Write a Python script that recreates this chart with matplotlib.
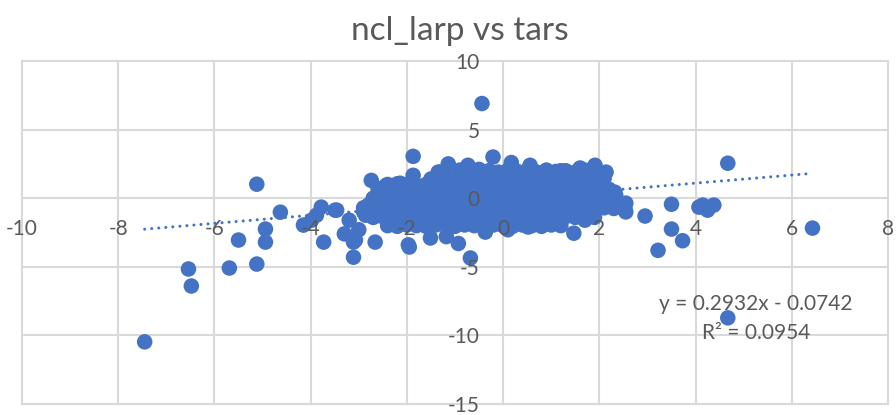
import matplotlib
matplotlib.use("Agg")
import matplotlib.pyplot as plt
import numpy as np

plt.rcParams['font.family'] = ['Lato', 'DejaVu Sans']

title = "ncl_larp vs tars"
slope = 0.2932
intercept = -0.0742
r2 = 0.0954
x_ticks = [-10, -8, -6, -4, -2, 0, 2, 4, 6, 8]
y_ticks = [-15, -10, -5, 0, 5, 10]

# outlying points (tars, ncl_larp)
out_x = [-7.45, -6.54, -6.48, -5.69, -5.12, -5.50, -4.94, -4.94, -5.12, -4.63,
         -4.15, -3.98, -3.88, -3.78, -3.46, -3.73, -3.11, -3.11, -3.07, -2.66,
         -1.95, -1.87, -1.87, -2.74, -1.35, -0.44, -0.21, -0.68, -0.93, 1.47,
         2.55, 2.95, 3.50, 3.50, 3.73, 3.22, 4.07, 4.15, 4.38, 4.25,
         4.67, 4.67, 6.43, 2.55, 2.34, -3.49, -3.20, -3.00, -2.90, -3.30,
         -1.97, -1.51, -1.18, 0.52, 0.10, -0.37, 1.08, 1.70, 2.18, 2.53,
         2.32, 2.14, 1.91, 1.60, 1.20, 0.87, 0.56, 0.17, -0.73, -1.14,
         -1.31, -1.62, -2.14, -2.43, -2.53, -2.80, -2.86]
out_y = [-10.47, -5.16, -6.40, -5.09, -4.80, -3.05, -2.25, -3.20, 1.02, -1.02,
         -1.96, -1.60, -1.24, -0.65, -0.87, -3.20, -4.30, -3.20, -3.05, -3.20,
         -3.56, 3.05, 1.67, 1.30, 1.90, 6.90, 3.00, -4.36, -3.30, -2.55,
         -1.00, -1.30, -0.44, -2.25, -3.10, -3.80, -0.65, -0.50, -0.50, -0.87,
         2.55, -8.72, -2.18, -0.36, 0.22, -0.87, -1.60, -2.30, -1.00, -2.60,
         -3.40, -2.90, -2.80, -2.10, -2.30, -2.47, -1.80, -1.60, -0.50, -0.73,
         0.44, 1.90, 2.40, 2.20, 2.00, 1.90, 2.40, 2.60, 2.40, 2.50,
         1.90, 0.94, 1.09, 0.94, 0.36, -0.50, -1.24]

# dense central cluster, row by row
core_x = [-0.9, -0.7, -0.5, -0.3, -0.1, 0.1, 0.3, 0.5, 0.7, 0.9, 1.1, 1.3, 1.5, 1.7, 1.9,
          -1.5, -1.3, -1.1, -0.9, -0.7, -0.5, -0.3, -0.1, 0.1, 0.3, 0.5, 0.7, 0.9, 1.1, 1.3, 1.5, 1.7, 1.9, 2.1,
          -2.4, -2.2, -2.0, -1.8, -1.6,
          -2.6, -2.4, -2.2, -2.0, -1.8, -1.6, -1.4, -1.2, -1.0, -0.8, -0.6, -0.4, -0.2, 0.0, 0.2, 0.4, 0.6, 0.8, 1.0, 1.2, 1.4, 1.6, 1.8, 2.0, 2.2,
          -2.7, -2.5, -2.3, -2.1, -1.9, -1.7, -1.5, -1.3, -1.1, -0.9, -0.7, -0.5, -0.3, -0.1, 0.1, 0.3, 0.5, 0.7, 0.9, 1.1, 1.3, 1.5, 1.7, 1.9, 2.1, 2.3,
          -2.9, -2.7, -2.5, -2.3, -2.1, -1.9, -1.7, -1.5, -1.3, -1.1, -0.9, -0.7, -0.5, -0.3, -0.1, 0.1, 0.3, 0.5, 0.7, 0.9, 1.1, 1.3, 1.5, 1.7, 1.9, 2.1, 2.3,
          -2.7, -2.5, -2.3, -2.1, -1.9, -1.7, -1.5, -1.3, -1.1, -0.9, -0.7, -0.5, -0.3, -0.1, 0.1, 0.3, 0.5, 0.7, 0.9, 1.1, 1.3, 1.5, 1.7, 1.9,
          -2.4, -2.2, -2.0, -1.8, -1.6, -1.4, -1.2, -1.0, -0.8, -0.6, -0.4, -0.2, 0.0, 0.2, 0.4, 0.6, 0.8, 1.0, 1.2]
core_y = [2.05, 1.95, 2.10, 2.00, 1.90, 2.05, 1.95, 2.00, 1.90, 2.05, 1.95, 2.00, 1.90, 2.05, 1.95,
          1.40, 1.35, 1.45, 1.40, 1.35, 1.40, 1.45, 1.40, 1.35, 1.40, 1.45, 1.40, 1.35, 1.40, 1.45, 1.40, 1.35, 1.40, 1.45,
          1.00, 1.05, 1.00, 0.95, 1.00,
          0.70, 0.65, 0.75, 0.70, 0.65, 0.70, 0.75, 0.70, 0.65, 0.70, 0.75, 0.70, 0.65, 0.70, 0.75, 0.70, 0.65, 0.70, 0.75, 0.70, 0.65, 0.70, 0.75, 0.70, 0.65,
          0.00, 0.05, -0.05, 0.00, 0.05, 0.00, -0.05, 0.00, 0.05, 0.00, -0.05, 0.00, 0.05, 0.00, -0.05, 0.00, 0.05, 0.00, -0.05, 0.00, 0.05, 0.00, -0.05, 0.00, 0.05, 0.00,
          -0.70, -0.65, -0.75, -0.70, -0.65, -0.70, -0.75, -0.70, -0.65, -0.70, -0.75, -0.70, -0.65, -0.70, -0.75, -0.70, -0.65, -0.70, -0.75, -0.70, -0.65, -0.70, -0.75, -0.70, -0.65, -0.70, -0.75,
          -1.40, -1.35, -1.45, -1.40, -1.35, -1.40, -1.45, -1.40, -1.35, -1.40, -1.45, -1.40, -1.35, -1.40, -1.45, -1.40, -1.35, -1.40, -1.45, -1.40, -1.35, -1.40, -1.45, -1.40,
          -2.00, -2.05, -1.95, -2.00, -2.05, -1.95, -2.00, -2.05, -1.95, -2.00, -2.05, -1.95, -2.00, -2.05, -1.95, -2.00, -2.05, -1.95, -2.00]

x = np.array(out_x + core_x)
y = np.array(out_y + core_y)

blue = '#4472C4'
grid_c = '#D9D9D9'
txt_c = '#595959'

fig = plt.figure(figsize=(8.96, 4.15), dpi=100)
ax = fig.add_axes([22/896, 11/415, 866/896, 343/415])
ax.set_xlim(x_ticks[0], x_ticks[-1])
ax.set_ylim(y_ticks[0], y_ticks[-1])

for t in x_ticks:
    ax.axvline(t, color=grid_c, lw=1.5, zorder=0, clip_on=False)
for t in y_ticks:
    ax.axhline(t, color=grid_c, lw=1.5, zorder=0, clip_on=False)

ax.scatter(x, y, s=125, color=blue, edgecolors='none', zorder=1)

xl = np.array([x.min(), x.max()])
ax.plot(xl, slope * xl + intercept, color=blue, lw=2.2,
        ls=(0, (0.01, 2.3)), dash_capstyle='round', zorder=2)

for s in ['top', 'right']:
    ax.spines[s].set_visible(False)
ax.spines['left'].set_position(('data', 0))
ax.spines['bottom'].set_position(('data', 0))
ax.spines['left'].set_color('none')
ax.spines['bottom'].set_color('none')
ax.set_xticks(x_ticks)
ax.set_yticks(y_ticks)
ax.set_xticklabels([str(t) for t in x_ticks])
ax.set_yticklabels([str(t) for t in y_ticks])
ax.tick_params(axis='x', length=0, pad=15, labelsize=15, labelcolor=txt_c)
ax.tick_params(axis='y', length=0, pad=17, labelsize=15, labelcolor=txt_c)
ax.xaxis.set_zorder(3)
ax.yaxis.set_zorder(3)
ax.patch.set_visible(False)

ax.text(5.25, -7.7, f"y = {slope}x - {abs(intercept)}", ha='center', va='center',
        fontsize=15, color=txt_c, zorder=4)
ax.text(5.25, -9.81, f"R² = {r2}", ha='center', va='center',
        fontsize=15, color=txt_c, zorder=4)

fig.text(460/896, 1 - 40/415, title, ha='center', va='baseline',
         fontsize=24, color=txt_c)

fig.savefig('out.png', dpi=100)
